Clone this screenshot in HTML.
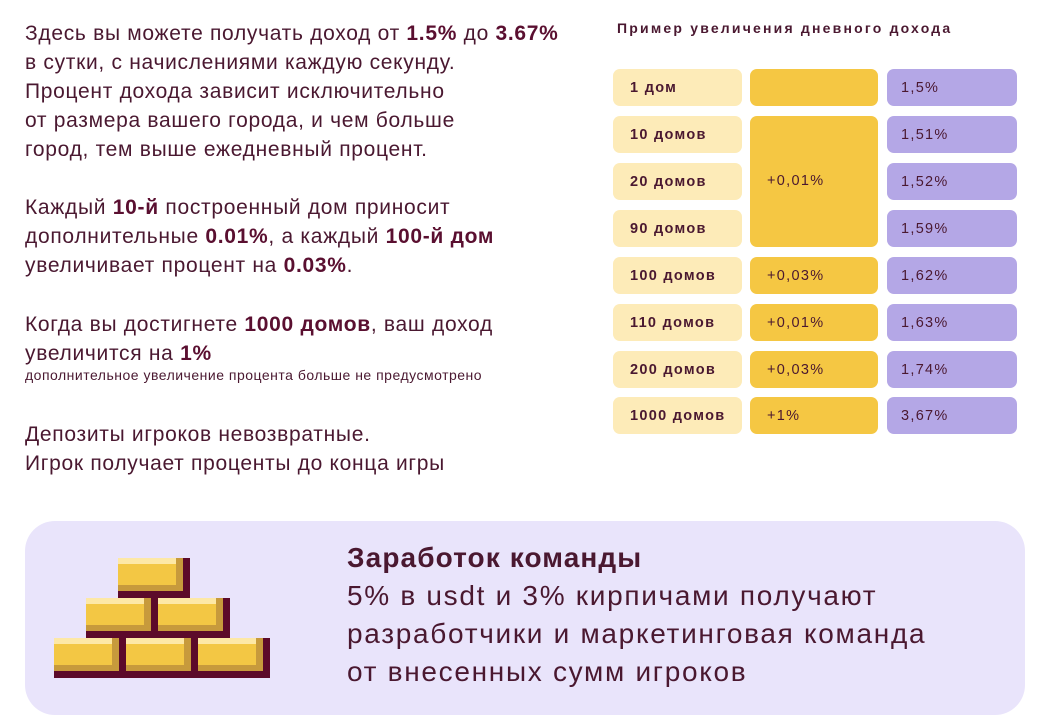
<!DOCTYPE html>
<html><head><meta charset="utf-8"><style>
*{margin:0;padding:0;box-sizing:border-box}
body{width:1038px;height:727px;background:#fff;position:relative;overflow:hidden;font-family:"Liberation Sans","Noto Sans CJK SC",sans-serif;color:#4a1830}
.t{position:absolute;left:25px;font-size:21px;line-height:29px;letter-spacing:0.7px;white-space:nowrap}
.t b{color:#5a0f30}
.small{font-size:14px;line-height:14px;letter-spacing:0.5px;display:block}
.h{position:absolute;left:617px;top:20px;font-size:14px;font-weight:bold;letter-spacing:2.2px;color:#4a1830}
.c{position:absolute;height:37px;border-radius:7px;font-size:14.5px;font-weight:bold;letter-spacing:1.3px;line-height:38px;color:#4a1830}
.a{left:613px;width:129px;background:#fdebb8;padding-left:17px}
.b{left:750px;width:128px;background:#f5c743;padding-left:17px;font-weight:normal}
.p{left:887px;width:130px;background:#b4a7e6;padding-left:14px;font-weight:normal}
.panel{position:absolute;left:25px;top:521px;width:1000px;height:194px;background:#e9e4fb;border-radius:30px}
.pt{position:absolute;left:347px;top:539px;font-size:28px;line-height:38px;color:#4a1830;letter-spacing:1.7px;white-space:nowrap}
.pt b{letter-spacing:1.1px}
.br{position:absolute;width:72px;height:40px;background:#5c0a2a}
.br i{position:absolute;left:0;top:0;width:65px;height:33px;background:#c79a3c}
.br u{position:absolute;left:0;top:0;width:58px;height:27px;background:#f3c744;border-top:6px solid #fde8a6}
</style></head><body>
<div class="t" style="top:19px">Здесь вы можете получать доход от <b>1.5%</b> до <b>3.67%</b><br>в сутки, с начислениями каждую секунду.<br>Процент дохода зависит исключительно<br>от размера вашего города, и чем больше<br>город, тем выше ежедневный процент.</div>
<div class="t" style="top:193px">Каждый <b>10-й</b> построенный дом приносит<br>дополнительные <b>0.01%</b>, а каждый <b>100-й дом</b><br>увеличивает процент на <b>0.03%</b>.</div>
<div class="t" style="top:310px">Когда вы достигнете <b>1000 домов</b>, ваш доход<br>увеличится на <b>1%</b><span class="small">дополнительное увеличение процента больше не предусмотрено</span></div>
<div class="t" style="top:420px">Депозиты игроков невозвратные.<br>Игрок получает проценты до конца игры</div>

<div class="h">Пример увеличения дневного дохода</div>
<div class="c a" style="top:69px">1 дом</div><div class="c b" style="top:69px"></div><div class="c p" style="top:69px">1,5%</div>
<div class="c a" style="top:116px">10 домов</div><div class="c b" style="top:116px;height:131px;line-height:131px">+0,01%</div><div class="c p" style="top:116px">1,51%</div>
<div class="c a" style="top:163px">20 домов</div><div class="c p" style="top:163px">1,52%</div>
<div class="c a" style="top:210px">90 домов</div><div class="c p" style="top:210px">1,59%</div>
<div class="c a" style="top:257px">100 домов</div><div class="c b" style="top:257px">+0,03%</div><div class="c p" style="top:257px">1,62%</div>
<div class="c a" style="top:304px">110 домов</div><div class="c b" style="top:304px">+0,01%</div><div class="c p" style="top:304px">1,63%</div>
<div class="c a" style="top:351px">200 домов</div><div class="c b" style="top:351px">+0,03%</div><div class="c p" style="top:351px">1,74%</div>
<div class="c a" style="top:397px">1000 домов</div><div class="c b" style="top:397px">+1%</div><div class="c p" style="top:397px">3,67%</div>

<div class="panel"></div>
<div class="br" style="left:118px;top:558px"><i></i><u></u></div>
<div class="br" style="left:86px;top:598px"><i></i><u></u></div>
<div class="br" style="left:158px;top:598px"><i></i><u></u></div>
<div class="br" style="left:54px;top:638px"><i></i><u></u></div>
<div class="br" style="left:126px;top:638px"><i></i><u></u></div>
<div class="br" style="left:198px;top:638px"><i></i><u></u></div>
<div class="pt"><b>Заработок команды</b><br>5% в usdt и 3% кирпичами получают<br>разработчики и маркетинговая команда<br>от внесенных сумм игроков</div>
</body></html>
